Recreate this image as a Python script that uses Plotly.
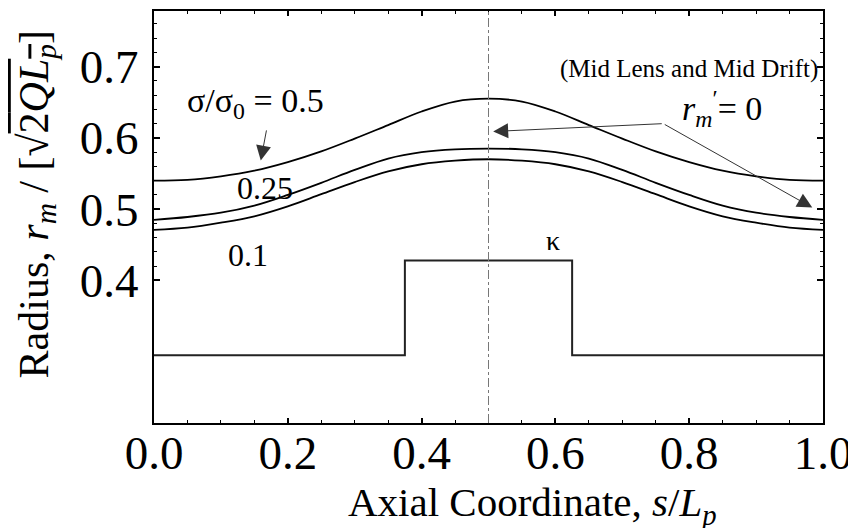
import plotly.graph_objects as go

# axial coordinate s/Lp
s = [0.00, 0.05, 0.10, 0.15, 0.20, 0.25, 0.30, 0.35, 0.40, 0.45, 0.50,
     0.55, 0.60, 0.65, 0.70, 0.75, 0.80, 0.85, 0.90, 0.95, 1.00]

# matched envelope radius for the three depressed tunes
r_sigma_05 = [0.540, 0.541, 0.546, 0.554, 0.566, 0.581, 0.599, 0.618, 0.637, 0.651, 0.655,
              0.651, 0.637, 0.618, 0.599, 0.581, 0.566, 0.554, 0.546, 0.541, 0.540]
r_sigma_025 = [0.485, 0.489, 0.495, 0.505, 0.520, 0.537, 0.555, 0.571, 0.580, 0.584, 0.585,
               0.584, 0.580, 0.571, 0.555, 0.537, 0.520, 0.505, 0.495, 0.489, 0.485]
r_sigma_01 = [0.471, 0.474, 0.481, 0.490, 0.504, 0.521, 0.538, 0.553, 0.563, 0.568, 0.570,
              0.568, 0.563, 0.553, 0.538, 0.521, 0.504, 0.490, 0.481, 0.474, 0.471]

# focusing function kappa (piecewise constant, lens in the middle)
s_kappa = [0.0, 0.375, 0.625, 1.0]
kappa = [0.295, 0.428, 0.295, 0.295]

x_ticks = [0.0, 0.2, 0.4, 0.6, 0.8, 1.0]
x_ticktext = ['0.0', '0.2', '0.4', '0.6', '0.8', '1.0']
y_ticks = [0.4, 0.5, 0.6, 0.7]
y_ticktext = ['0.4', '0.5', '0.6', '0.7']
y_minor = [0.42, 0.44, 0.46, 0.48, 0.52, 0.54, 0.56, 0.58, 0.62, 0.64, 0.66, 0.68,
           0.72, 0.74, 0.76]

FONT = 'Liberation Serif, Times New Roman, serif'

fig = go.Figure()
for ys in (r_sigma_05, r_sigma_025, r_sigma_01):
    fig.add_trace(go.Scatter(x=s, y=ys, mode='lines', line_shape='spline',
                             line=dict(color='black', width=1.8)))
fig.add_trace(go.Scatter(x=s_kappa, y=kappa, mode='lines', line_shape='hv',
                         line=dict(color='#222', width=2)))

# mid lens / mid drift line
fig.add_shape(type='line', x0=0.5, x1=0.5, y0=0, y1=1, xref='x', yref='paper',
              line=dict(color='#777', width=1, dash='dashdot'))

# page body has an 8px margin, so the figure is drawn 8px smaller
fig.update_layout(
    width=848, height=520,
    margin=dict(l=146, r=33, t=3, b=105),
    plot_bgcolor='white', paper_bgcolor='white',
    showlegend=False,
    font=dict(family=FONT, color='black'),
)
fig.update_xaxes(range=[0, 1], tickvals=x_ticks, ticktext=x_ticktext,
                 ticks='inside', ticklen=5, tickwidth=1.5, tickcolor='black',
                 minor=dict(tickmode='linear', tick0=0, dtick=0.05, ticks='inside',
                            ticklen=3, tickwidth=1, tickcolor='black'),
                 showline=True, linewidth=2, linecolor='black', mirror='allticks',
                 showgrid=False, zeroline=False, automargin=False,
                 ticklabelstandoff=-12,
                 tickfont=dict(size=47, family=FONT))
fig.update_yaxes(range=[0.2, 0.778], tickvals=y_ticks, ticktext=y_ticktext,
                 ticks='inside', ticklen=6, tickwidth=1.5, tickcolor='black',
                 minor=dict(tickvals=y_minor, ticks='inside',
                            ticklen=3, tickwidth=1, tickcolor='black'),
                 showline=True, linewidth=2, linecolor='black', mirror='allticks',
                 showgrid=False, zeroline=False, automargin=False,
                 ticklabelstandoff=4,
                 tickfont=dict(size=47, family=FONT))

annots = [
    dict(x=0.566, y=-0.2, xref='paper', yref='paper',
         text='Axial Coordinate, <i>s</i>/<i>L<sub>p</sub></i>', font=dict(size=41)),
    dict(x=0, y=0.5306, xref='paper', yref='paper', xshift=-117, textangle=-90,
         text="Radius, <i>r<sub>m</sub></i> / [√<span style='text-decoration:overline'>2<i>QL<sub>p</sub></i></span>]",
         font=dict(size=42)),
    dict(x=0.1513, y=0.6495, text='σ/σ<sub>0</sub> = 0.5', font=dict(size=34)),
    dict(x=0.1656, y=0.5296, text='0.25', font=dict(size=32)),
    dict(x=0.1406, y=0.435, text='0.1', font=dict(size=32)),
    dict(x=0.596, y=0.456, text='κ', font=dict(size=28)),
    dict(x=0.996, y=0.697, text='(Mid Lens and Mid Drift)', font=dict(size=25),
         xanchor='right'),
    dict(x=0.849, y=0.641, text='<i>r</i><sub><i>m</i></sub><sup>′</sup>= 0', font=dict(size=34)),
]
for a in annots:
    a.setdefault('xref', 'x')
    a.setdefault('yref', 'y')
    a.setdefault('xanchor', 'center')
    fig.add_annotation(showarrow=False, yanchor='middle', **a)

# arrows
arrows = [
    dict(x=0.1596, y=0.5682, ax=0.1685, ay=0.6126),
    dict(x=0.507, y=0.609, ax=0.7612, ay=0.620),
    dict(x=0.984, y=0.5022, ax=0.7612, ay=0.620),
]
for a in arrows:
    fig.add_annotation(xref='x', yref='y', axref='x', ayref='y', text='',
                       showarrow=True, arrowhead=2, arrowsize=3, arrowwidth=1,
                       arrowcolor='#333', standoff=0, **a)

fig.write_html("out.html")
